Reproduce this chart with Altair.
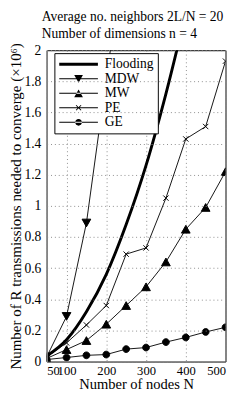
import altair as alt
import pandas as pd

FONT = "Liberation Serif"

nodes = [50, 100, 150, 200, 250, 300, 350, 400, 450, 500]
flood_nodes = [50, 100, 150, 200, 250, 300, 350, 400]
flooding = [0.035, 0.14, 0.32, 0.56, 0.88, 1.26, 1.72, 2.24]
mdw_nodes = [50, 100, 150, 200, 250]
mdw = [0.03, 0.29, 0.89, 1.82, 2.7]
mw = [0.02, 0.077, 0.135, 0.24, 0.36, 0.48, 0.64, 0.85, 0.99, 1.22]
pe = [0.03, 0.12, 0.235, 0.36, 0.69, 0.73, 1.05, 1.43, 1.51, 1.93]
ge = [0.013, 0.026, 0.04, 0.045, 0.08, 0.09, 0.125, 0.155, 0.19, 0.22]

series_order = ["Flooding", "MDW", "MW", "PE", "GE"]
x_ticks = [50, 100, 200, 300, 400, 500]
y_ticks = [0, 0.2, 0.4, 0.6, 0.8, 1, 1.2, 1.4, 1.6, 1.8, 2]

rows = []
for n, v in zip(flood_nodes, flooding):
    rows.append({"N": n, "v": v, "s": "Flooding"})
for n, v in zip(mdw_nodes, mdw):
    rows.append({"N": n, "v": v, "s": "MDW"})
for n, v in zip(nodes, mw):
    rows.append({"N": n, "v": v, "s": "MW"})
for n, v in zip(nodes, pe):
    rows.append({"N": n, "v": v, "s": "PE"})
for n, v in zip(nodes, ge):
    rows.append({"N": n, "v": v, "s": "GE"})
df = pd.DataFrame(rows)

# marker paths in unit coordinates (plot, size 25 -> 1 unit = 2.5px)
plot_shapes = [
    "M-1,0H1",
    "M-1.8,-1.6H1.8L0,1.6Z",
    "M-1.8,1.6H1.8L0,-1.6Z",
    "M-1.1,-1.1L1.1,1.1M-1.1,1.1L1.1,-1.1",
    "M-1.4,0A1.4,1.4 0 1 0 1.4,0A1.4,1.4 0 1 0 -1.4,0Z",
]
# legend symbols (size 169 -> 1 unit = 6.5px): filled line + marker, shifted right
LN = "M-1,-0.077H5.154V0.077H-1Z"
C = 2.077
legend_shapes = [
    "M-1,-0.231H5.154V0.231H-1Z",
    LN + f"M{C-0.692},-0.615H{C+0.692}L{C},0.615Z",
    LN + f"M{C-0.692},0.615H{C+0.692}L{C},-0.615Z",
    LN + f"M{C-0.346},-0.454L{C+0.454},0.346L{C+0.346},0.454L{C-0.454},-0.346Z"
         f"M{C-0.454},0.346L{C+0.346},-0.454L{C+0.454},-0.346L{C-0.346},0.454Z",
    LN + f"M{C-0.538},0A0.538,0.538 0 1 0 {C+0.538},0A0.538,0.538 0 1 0 {C-0.538},0Z",
]

xs = alt.Scale(domain=[50, 500], nice=False)
ys = alt.Scale(domain=[0, 2], nice=False)

x_enc = alt.X("N:Q", scale=xs, axis=alt.Axis(
    values=x_ticks, title="Number of nodes N", labelOverlap=False,
    ticks=False, labelPadding=3, domain=False, labelFontSize=13, titleFontSize=15,
    gridDash=[1, 3], gridColor="#8a8a8a", titlePadding=0))
y_enc = alt.Y("v:Q", scale=ys, axis=alt.Axis(
    values=y_ticks, format="~g", title="Number of R transmissions needed to converge (×10⁶)",
    ticks=False, labelPadding=6, domainColor="#888", domainWidth=1.5, zindex=2,
    labelFontSize=14, titleFontSize=15.5,
    gridDash=[1, 3], gridColor="#8a8a8a", titlePadding=1))

base = alt.Chart(df)

lines = base.transform_filter("datum.s != 'Flooding'").mark_line(
    color="#111", strokeWidth=1, clip=True).encode(x=x_enc, y=y_enc, detail="s:N")

flood = base.transform_filter("datum.s == 'Flooding'").mark_line(
    color="black", strokeWidth=3, interpolate="monotone", clip=True).encode(x=x_enc, y=y_enc)

points = base.transform_filter("datum.s != 'Flooding'").mark_point(
    filled=True, fill="black", stroke="black", strokeWidth=1, size=25, opacity=1, clip=True
).encode(
    x=x_enc, y=y_enc,
    shape=alt.Shape("s:N", scale=alt.Scale(domain=series_order, range=plot_shapes), legend=None),
)

legend_layer = base.mark_point(
    filled=True, fill="black", size=169, opacity=0, clip=True
).encode(
    x=x_enc, y=y_enc,
    shape=alt.Shape("s:N", scale=alt.Scale(domain=series_order, range=legend_shapes),
                    legend=alt.Legend(
                        orient="none", legendX=8, legendY=3, title=None,
                        fillColor="white", strokeColor="black", padding=4,
                        labelFont=FONT, labelFontSize=14, labelColor="black",
                        symbolSize=169, symbolOpacity=1, symbolFillColor="black",
                        rowPadding=-2, labelOffset=33)),
)

chart = alt.layer(lines, flood, points, legend_layer).resolve_scale(
    shape="independent"
).properties(
    width=185, height=322,
    autosize=alt.AutoSizeParams(type="none"),
    padding={"left": 40, "top": 37, "right": 16, "bottom": 31},
    title=alt.TitleParams(
        text=["Average no. neighbors 2L/N = 20", "Number of dimensions n = 4"],
        anchor="start", font=FONT, fontSize=14, fontWeight="normal",
        lineHeight=17, offset=2, dx=-5, color="black", frame="group"),
).configure_view(stroke="black", strokeWidth=1).configure_axis(
    labelFont=FONT, titleFont=FONT,
    titleFontWeight="normal", labelColor="black", titleColor="black",
)

chart.save("out.html", embed_options={"renderer": "svg", "actions": False})
